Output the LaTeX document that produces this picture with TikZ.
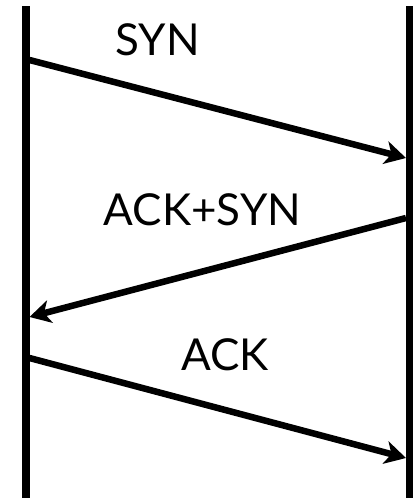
\documentclass[tikz,border=0pt]{standalone}
\usepackage{fontspec}
\setmainfont{Lato}
\usetikzlibrary{arrows.meta}
\begin{document}
\begin{tikzpicture}[x=1pt,y=-1pt,
  lifeline/.style={line width=7.5pt},
  msg/.style={line width=6.5pt,-{Stealth[length=21pt,width=23pt,inset=6pt]}},
  lbl/.style={font=\fontsize{44}{44}\selectfont,anchor=base,inner sep=0pt}]
\useasboundingbox (0,0) rectangle (419,498);
\coordinate (Ltop) at (26,6);
\coordinate (Lbot) at (26,498);
\coordinate (Rtop) at (409.5,6);
\coordinate (Rbot) at (409.5,498);
\draw[lifeline] (Ltop) -- (Lbot);
\draw[lifeline] (Rtop) -- (Rbot);
\coordinate (s1) at (29.5,60);
\coordinate (e1) at (406,158);
\coordinate (s2) at (406,218);
\coordinate (e2) at (29.5,317);
\coordinate (s3) at (29.5,358);
\coordinate (e3) at (406,458);
\draw[msg] (s1) -- (e1);
\draw[msg] (s2) -- (e2);
\draw[msg] (s3) -- (e3);
\node[lbl] (syn) at (157.5,55) {SYN};
\node[lbl] (acksyn) at (202.5,225) {ACK+SYN};
\node[lbl] (ack) at (225,370) {ACK};
\end{tikzpicture}
\end{document}
